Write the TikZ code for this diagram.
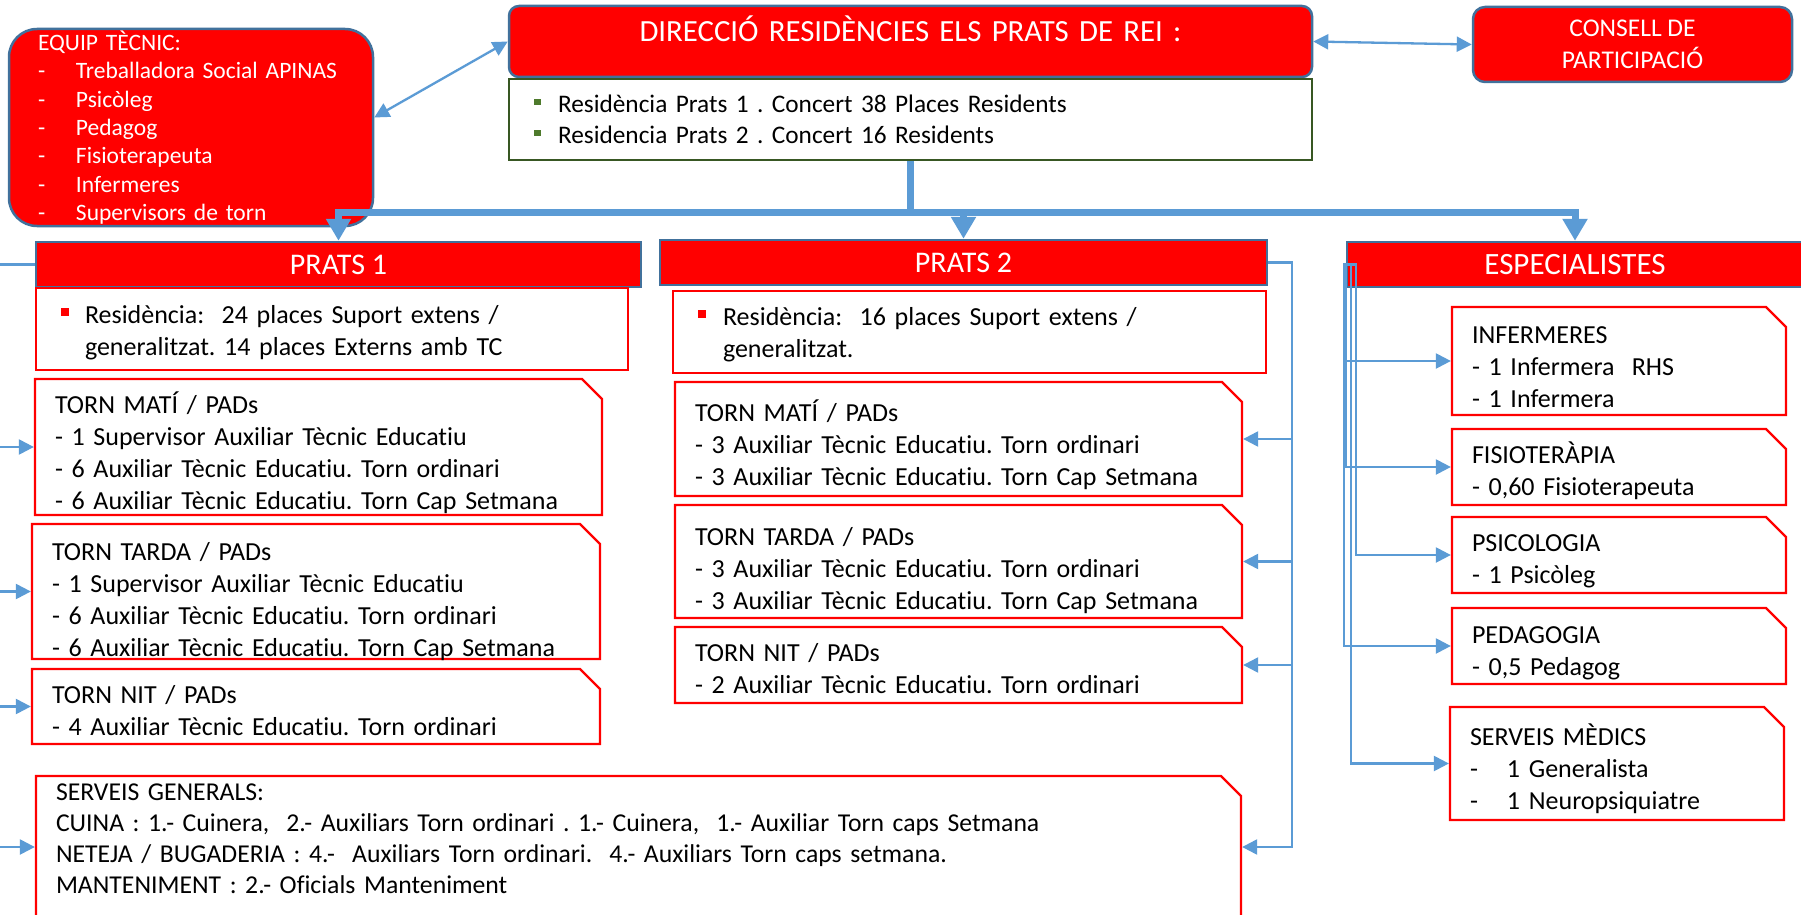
\documentclass[tikz,border=0pt]{standalone}
\usepackage{fontspec}
\setmainfont{Carlito}[Ligatures=CommonOff]
\usetikzlibrary{shapes.misc,arrows.meta}
\definecolor{boxred}{HTML}{FF0000}
\definecolor{hdrblue}{HTML}{41719C}
\definecolor{lineblue}{HTML}{5B9BD5}
\definecolor{resgreen}{HTML}{385723}
\definecolor{bulgreen}{HTML}{4E7A2C}
\newcommand{\fsz}[2]{\fontsize{#1}{#2}\selectfont}
\newcommand{\sqb}[2][8pt]{\textcolor{#2}{\rule[7pt]{#1}{#1}}}
\newcommand{\itm}[1][38pt]{\makebox[#1][l]{-}}

\begin{document}
\frenchspacing
\begin{tikzpicture}[x=1pt,y=-1pt,
  redbox/.style={draw=hdrblue,line width=2.5pt,fill=boxred,text=white,inner sep=0pt},
  head/.style={redbox,minimum height=45pt,font=\fsz{30}{36}},
  list/.style={draw=boxred,line width=2.3pt,fill=white,inner xsep=20pt,inner ysep=0pt,align=left,font=\fsz{26}{32}},
  torn/.style={list,inner xsep=0pt,chamfered rectangle,chamfered rectangle corners=north east,
    chamfered rectangle xsep=20pt,chamfered rectangle ysep=0pt},
  conn/.style={draw=lineblue,line width=2.3pt},
  arr/.style={conn,-{Triangle[length=15pt,width=15pt]}},
  dbl/.style={conn,{Triangle[length=15pt,width=15pt]}-{Triangle[length=15pt,width=15pt]}},
  bigarr/.style={draw=lineblue,line width=7pt,-{Triangle[length=22pt,width=24pt]}}]
\clip (0,0) rectangle (1801,915);
\fill[white] (0,0) rectangle (1801,915);

% direccio i equip
\node[redbox,rounded corners=28pt,minimum height=197pt,text width=306pt,inner xsep=29pt,align=left,font=\fsz{23.5}{28.3}] (equip) at (191,127.5)
  {EQUIP TÈCNIC:\\ \itm Treballadora Social APINAS\\ \itm Psicòleg\\ \itm Pedagog\\ \itm Fisioterapeuta\\ \itm Infermeres\\ \itm Supervisors de torn};
\node[redbox,rounded corners=10pt,text width=803pt,align=center,text height=35.5pt,text depth=35.5pt,font=\fsz{30.8}{38}] (dir) at (910.5,41.5)
  {DIRECCIÓ RESIDÈNCIES ELS PRATS DE REI :};
\node[draw=resgreen,line width=2.5pt,fill=white,inner xsep=25pt,inner ysep=0pt,text width=753pt,align=left,text height=33.5pt,text depth=47.5pt,font=\fsz{25.3}{31}] (res) at (910.5,119.5)
  {\makebox[24pt][l]{\sqb[6.5pt]{bulgreen}}Residència Prats 1 . Concert 38 Places Residents\\
   \makebox[24pt][l]{\sqb[6.5pt]{bulgreen}}Residencia Prats 2 . Concert 16 Residents};
\node[redbox,rounded corners=12pt,minimum width=319pt,minimum height=75pt,align=center,font=\fsz{25.5}{32}] (consell) at (1632.5,44.5)
  {CONSELL DE\\PARTICIPACIÓ};

% prats 1
\node[head,minimum width=605pt] (p1head) at (338.5,264.5) {PRATS 1};
\node[list,inner xsep=25pt,text width=542pt,text height=35pt,text depth=47pt] (p1res) at (332,329)
  {\makebox[24pt][l]{\sqb{boxred}}Residència:\ \ 24 places Suport extens /\\ \hspace*{24pt}generalitzat. 14 places Externs amb TC};
\node[torn,text width=527pt,text height=34pt,text depth=102pt] (p1mati) at (318.5,447)
  {TORN MATÍ / PADs\\ - 1 Supervisor Auxiliar Tècnic Educatiu\\ - 6 Auxiliar Tècnic Educatiu. Torn ordinari\\ - 6 Auxiliar Tècnic Educatiu. Torn Cap Setmana};
\node[torn,text width=528pt,text height=36pt,text depth=99pt] (p1tarda) at (316,591.5)
  {TORN TARDA / PADs\\ - 1 Supervisor Auxiliar Tècnic Educatiu\\ - 6 Auxiliar Tècnic Educatiu. Torn ordinari\\ - 6 Auxiliar Tècnic Educatiu. Torn Cap Setmana};
\node[torn,text width=528pt,text height=34pt,text depth=41pt] (p1nit) at (316,706.5)
  {TORN NIT / PADs\\ - 4 Auxiliar Tècnic Educatiu. Torn ordinari};
\node[torn,text width=1165pt,text height=24pt,text depth=118pt,font=\fsz{25.7}{31}] (serveis) at (638.5,847)
  {SERVEIS GENERALS:\\
   CUINA : 1.- Cuinera,\ \ 2.- Auxiliars Torn ordinari . 1.- Cuinera,\ \ 1.- Auxiliar Torn caps Setmana\\
   NETEJA / BUGADERIA : 4.-\ \ Auxiliars Torn ordinari.\ \ 4.- Auxiliars Torn caps setmana.\\
   MANTENIMENT : 2.- Oficials Manteniment};

% prats 2
\node[head,minimum width=607pt] (p2head) at (963.5,262.5) {PRATS 2};
\node[list,inner xsep=25pt,text width=543pt,text height=34pt,text depth=48pt] (p2res) at (969.5,332)
  {\makebox[25pt][l]{\sqb{boxred}}Residència:\ \ 16 places Suport extens /\\ \hspace*{25pt}generalitzat.};
\node[torn,text width=527pt,text height=39pt,text depth=75pt] (p2mati) at (958.5,439)
  {TORN MATÍ / PADs\\ - 3 Auxiliar Tècnic Educatiu. Torn ordinari\\ - 3 Auxiliar Tècnic Educatiu. Torn Cap Setmana};
\node[torn,text width=527pt,text height=40pt,text depth=73pt] (p2tarda) at (958.5,561.5)
  {TORN TARDA / PADs\\ - 3 Auxiliar Tècnic Educatiu. Torn ordinari\\ - 3 Auxiliar Tècnic Educatiu. Torn Cap Setmana};
\node[torn,text width=527pt,text height=34pt,text depth=42pt] (p2nit) at (958.5,665)
  {TORN NIT / PADs\\ - 2 Auxiliar Tècnic Educatiu. Torn ordinari};

% especialistes
\node[head,minimum width=456pt,font=\fsz{31}{36}] (esp) at (1575,264.5) {ESPECIALISTES};
\node[torn,text width=294pt,text height=36pt,text depth=72pt,chamfered rectangle xsep=20pt] (inf) at (1619,361)
  {INFERMERES\\ - 1 Infermera\ \ RHS\\ - 1 Infermera};
\node[torn,text width=294pt,text height=34pt,text depth=42pt] (fisio) at (1619,467)
  {FISIOTERÀPIA\\ - 0,60 Fisioterapeuta};
\node[torn,text width=294pt,text height=34pt,text depth=42pt] (psico) at (1619,555)
  {PSICOLOGIA\\ - 1 Psicòleg};
\node[torn,text width=294pt,text height=35pt,text depth=41pt] (peda) at (1619,646)
  {PEDAGOGIA\\ - 0,5 Pedagog};
\node[torn,text width=294pt,text height=38pt,text depth=75pt] (medics) at (1617,763.5)
  {SERVEIS MÈDICS\\ \itm[37pt]1 Generalista\\ \itm[37pt]1 Neuropsiquiatre};

% connectors
\draw[dbl] ([yshift=10pt]equip.east) -- (dir.west);
\draw[dbl] (dir.east) -- (consell.west);
\foreach \t in {p1head,p2head,esp}
  \draw[bigarr] (res.south) -- ++(0,51) -| (\t.north);
\coordinate (lbus) at (-30,0);
\coordinate (rbus) at (1292,0);
\draw[conn] (p1head.west) -- (lbus |- p1head.west);
\foreach \t in {p1mati,p1tarda,p1nit,serveis}
  \draw[arr] (p1head.west) -- (lbus |- p1head.west) |- (\t.west);
\foreach \t in {p2mati,p2tarda,p2nit,serveis}
  \draw[arr] (p2head.east) -- (rbus |- p2head.east) |- (\t.east);
\foreach \t/\dx in {inf/-2,fisio/0,psico/10,peda/-2,medics/5}
  \draw[arr] (esp.west) -- ++(\dx,0) |- (\t.west);
\end{tikzpicture}
\end{document}
